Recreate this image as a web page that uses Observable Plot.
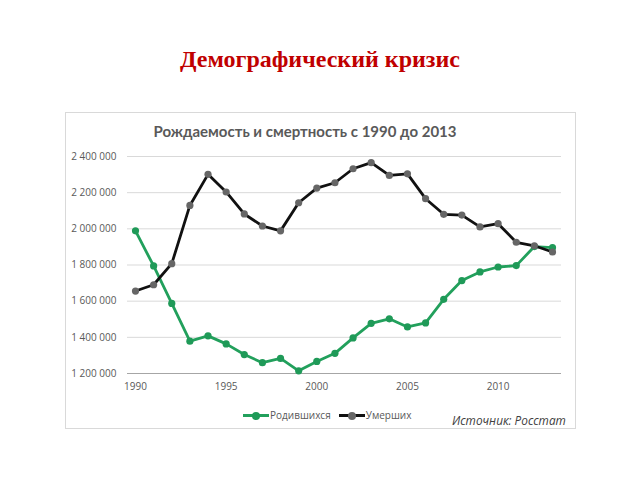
<!DOCTYPE html>
<html>
<head>
<meta charset="utf-8">
<script src="https://cdn.jsdelivr.net/npm/d3@7"></script>
<script src="https://cdn.jsdelivr.net/npm/@observablehq/plot@0.6"></script>
<style>
  html, body { margin: 0; padding: 0; background: #fff; }
  body { width: 640px; height: 480px; position: relative; overflow: hidden; }
  #title { position: absolute; left: 0; width: 640px; top: 46px; text-align: center;
    font-family: "Liberation Serif", serif; font-weight: bold; font-size: 24px; color: #c00000; }
  #box { position: absolute; left: 65px; top: 112px; width: 509px; height: 315px;
    border: 1px solid #d9d9d9; }
  #ctitle { position: absolute; left: 140px; width: 330px; top: 122px; text-align: center;
    font-family: Lato, "Open Sans", sans-serif; font-weight: 700; font-size: 15px; color: #595959; }
  #chart { position: absolute; left: 65px; top: 145px; }
  #legend { position: absolute; top: 408px; left: 243px; font-family: "Open Sans", sans-serif;
    font-size: 10px; color: #595959; display: flex; align-items: center; }
  .item { display: flex; align-items: center; margin-right: 8px; }
  .sw { position: relative; width: 26px; height: 10px; margin-right: 1px; }
  .sw .ln { position: absolute; left: 0; top: 4px; width: 26px; height: 3px; }
  .sw .pt { position: absolute; left: 9px; top: 1.5px; width: 8px; height: 8px; border-radius: 50%; }
  #source { position: absolute; top: 412px; left: 452px; font-family: "Open Sans", sans-serif;
    font-style: italic; font-size: 11.8px; color: #404040; }
</style>
</head>
<body>
<div id="title">Демографический кризис</div>
<div id="box"></div>
<div id="ctitle">Рождаемость и смертность с 1990 до 2013</div>
<div id="chart"></div>
<div id="legend">
  <div class="item"><div class="sw"><div class="ln" style="background:#22a05c"></div><div class="pt" style="background:#1f9a58"></div></div>Родившихся</div>
  <div class="item"><div class="sw"><div class="ln" style="background:#111"></div><div class="pt" style="background:#666"></div></div>Умерших</div>
</div>
<div id="source">Источник: Росстат</div>
<script>
const years = [1990,1991,1992,1993,1994,1995,1996,1997,1998,1999,2000,2001,2002,2003,2004,2005,2006,2007,2008,2009,2010,2011,2012,2013];
const births = [1988858,1794626,1587644,1378983,1408159,1363806,1304638,1259943,1283292,1214689,1266800,1311604,1396967,1477301,1502477,1457376,1479637,1610122,1713947,1761687,1788948,1796629,1902084,1895822];
const deaths = [1655993,1690657,1807441,2129339,2301366,2203811,2082249,2015779,1988744,2144316,2225332,2254856,2332272,2365826,2295402,2303935,2166703,2080445,2075954,2010543,2028516,1925720,1906335,1871809];
const yTicks = [1200000,1400000,1600000,1800000,2000000,2200000,2400000];
const xTicks = [1990,1995,2000,2005,2010];
const seriesNames = ["Родившихся","Умерших"];

const rows = years.map((y,i) => ({year: y, value: births[i], s: seriesNames[0]}));
const rowsD = years.map((y,i) => ({year: y, value: deaths[i], s: seriesNames[1]}));

const fmt = v => d3.format(",")(v).replace(/,/g, " ");

const chart = Plot.plot({
  width: 510,
  height: 255,
  marginTop: 11,
  marginBottom: 27,
  marginLeft: 62,
  marginRight: 14,
  x: {domain: [1990, 2013], insetLeft: 8, insetRight: 9},
  y: {domain: [1200000, 2400000]},
  style: {fontFamily: "'Open Sans', sans-serif", fontSize: "10px", color: "#595959", background: "transparent"},
  marks: [
    Plot.gridY(yTicks, {stroke: "#d9d9d9", strokeOpacity: 1}),
    Plot.ruleY([1200000], {stroke: "#a6a6a6", strokeWidth: 1}),
    Plot.axisY(yTicks, {tickSize: 0, tickPadding: 11, tickFormat: fmt, label: null, fill: "#595959"}),
    Plot.axisX(xTicks, {tickSize: 0, tickPadding: 9, tickFormat: d => String(d), label: null, fill: "#595959"}),
    Plot.line(rows, {x: "year", y: "value", stroke: "#22a05c", strokeWidth: 2.8}),
    Plot.dot(rows, {x: "year", y: "value", fill: "#1f9a58", r: 3.6}),
    Plot.line(rowsD, {x: "year", y: "value", stroke: "#111", strokeWidth: 2.8}),
    Plot.dot(rowsD, {x: "year", y: "value", fill: "#666", r: 3.6})
  ]
});
document.getElementById("chart").appendChild(chart);
</script>
</body>
</html>
